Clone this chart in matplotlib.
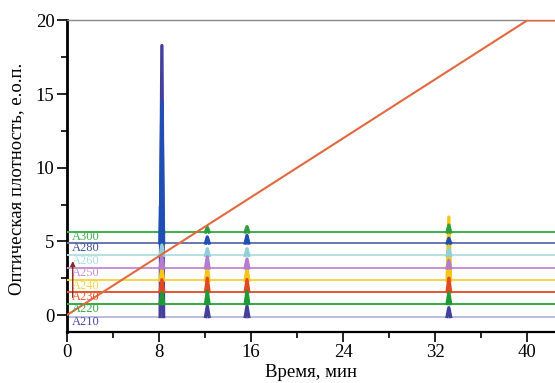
import numpy as np
import matplotlib.pyplot as plt

plt.rcParams['font.family'] = ['Liberation Serif', 'DejaVu Serif']

# trace names, baselines and peaks (time, top value)
names = ['A300', 'A280', 'A260', 'A250', 'A240', 'A230', 'A220', 'A210']
baselines = [5.64, 4.89, 4.05, 3.2, 2.36, 1.59, 0.78, -0.1]
peak_times = [8.25, 12.2, 15.65, 33.2]
peak_tops = [
    [6.3, 5.95, 6.0, 6.1],
    [14.5, 5.3, 5.4, 5.2],
    [4.75, 4.5, 4.5, 4.5],
    [3.95, 3.95, 3.8, 3.7],
    [3.3, 3.3, 3.2, 6.65],
    [2.4, 2.5, 2.4, 2.5],
    [1.5, 1.6, 1.6, 1.5],
    [18.3, 0.6, 0.6, 0.5],
]
# extra narrow peak of A280 just before the main one
shoulder_time = 8.05
shoulder_top = 7.4

line_colors = ['#3fae4f', '#6a78ae', '#b4e0e4', '#c98fd6', '#f6d44a', '#e2572e', '#35a845', '#bcbce0']
peak_colors = ['#2f9e3e', '#1f4fb4', '#8fd0d8', '#b47ccc', '#f5c518', '#e04a20', '#1e9a35', '#443f9c']
label_colors = ['#3fae4f', '#3a4f96', '#a8dde2', '#c98fd6', '#f6d44a', '#e2572e', '#35a845', '#4a4a9e']

# solvent gradient line
grad_t = [0, 40, 43]
grad_v = [0, 20, 20]

fig = plt.figure(figsize=(5.55, 3.83), dpi=100)
ax = fig.add_axes([0.1207, 0.1332, 0.8793, 0.8133])

# drawing order: bottom to top
order = [7, 4, 0, 1, 2, 3, 5, 6]
for z, i in enumerate(order):
    ax.plot([0, 43], [baselines[i], baselines[i]], color=line_colors[i], lw=1.4, zorder=2 + z)
    for t, top in zip(peak_times, peak_tops[i]):
        ax.plot([t - 0.15, t, t + 0.15], [baselines[i], top, baselines[i]],
                color=peak_colors[i], lw=2.4, zorder=2 + z)
    if names[i] == 'A280':
        ax.plot([shoulder_time - 0.05, shoulder_time, shoulder_time + 0.05],
                [baselines[i], shoulder_top, baselines[i]],
                color=peak_colors[i], lw=1.0, zorder=2 + z)
    ax.text(0.45, baselines[i] + 0.05, names[i], color=label_colors[i], fontsize=9,
            va='top', ha='left', zorder=20)

ax.plot(grad_t, grad_v, color='#e2683e', lw=1.5, zorder=15)
ax.annotate('', xy=(0.5, 3.85), xytext=(0.5, 1.0),
            arrowprops=dict(arrowstyle='-|>', color='#8a2a20', lw=1.0, mutation_scale=7), zorder=21)

ax.set_xlim(0, 42.43)
ax.set_ylim(-1.15, 20)
ax.set_xticks([0, 8, 16, 24, 32, 40])
ax.set_xticks([4, 12, 20, 28, 36], minor=True)
ax.set_yticks([0, 5, 10, 15, 20])
ax.set_yticks([2.5, 7.5, 12.5, 17.5], minor=True)
ax.tick_params(axis='both', which='major', length=7, width=1.2, labelsize=13.5, pad=2)
ax.tick_params(axis='both', which='minor', length=4, width=1.2)
ax.set_xlabel('Время, мин', fontsize=13.5, labelpad=2)
ax.set_ylabel('Оптическая плотность, е.о.п.', fontsize=13.5, labelpad=3)
ax.yaxis.set_label_coords(-0.085, 0.49)

ax.spines['right'].set_visible(False)
ax.spines['top'].set_color('#888888')
ax.spines['top'].set_linewidth(1.0)
ax.spines['left'].set_linewidth(2.0)
ax.spines['bottom'].set_linewidth(1.6)

fig.savefig('out.png', dpi=100)
